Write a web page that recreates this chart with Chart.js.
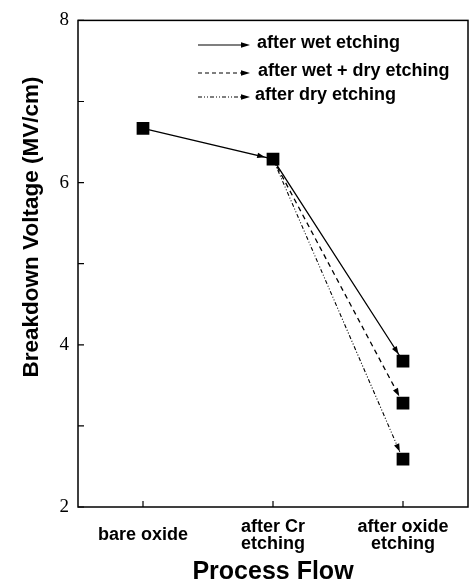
<!DOCTYPE html>
<html>
<head>
<meta charset="utf-8">
<script src="https://cdn.jsdelivr.net/npm/chart.js@4"></script>
<style>
	html, body { margin: 0; padding: 0; background: #fff; }
	#wrap { width: 471px; height: 585px; }
</style>
</head>
<body>
<div id="wrap"><canvas id="chart" width="471" height="585"></canvas></div>
<script>
// process steps (x positions 0, 1, 2)
const steps = [["bare oxide"], ["after Cr", "etching"], ["after oxide", "etching"]];
const yTicks = [2, 3, 4, 5, 6, 7, 8];

// breakdown voltage (MV/cm)
const wetX = [0, 1, 2];
const wetY = [6.67, 6.29, 3.8];
const wetDryX = [1, 2];
const wetDryY = [6.29, 3.28];
const dryX = [1, 2];
const dryY = [6.29, 2.59];

const legendItems = [
	{ text: "after wet etching", dash: [] },
	{ text: "after wet + dry etching", dash: [4, 3] },
	{ text: "after dry etching", dash: [4, 2, 1, 2, 1, 2] },
];

const toPoints = (xs, ys) => xs.map((x, i) => ({ x: x, y: ys[i] }));

function arrowHead(ctx, x1, y1, x2, y2, len, half) {
	const a = Math.atan2(y2 - y1, x2 - x1);
	ctx.beginPath();
	ctx.moveTo(x2, y2);
	ctx.lineTo(x2 - len * Math.cos(a) + half * Math.sin(a), y2 - len * Math.sin(a) - half * Math.cos(a));
	ctx.lineTo(x2 - len * Math.cos(a) - half * Math.sin(a), y2 - len * Math.sin(a) + half * Math.cos(a));
	ctx.closePath();
	ctx.fill();
}

const decor = {
	id: "decor",
	afterDatasetsDraw(chart) {
		const ctx = chart.ctx;
		const area = chart.chartArea;
		const xs = chart.scales.x;
		const ys = chart.scales.y;
		ctx.save();
		ctx.strokeStyle = "#000";
		ctx.fillStyle = "#000";

		// frame
		ctx.lineWidth = 1.5;
		ctx.strokeRect(area.left, area.top, area.right - area.left, area.bottom - area.top);

		// inward ticks
		ctx.lineWidth = 1.2;
		ctx.beginPath();
		for (const v of yTicks) {
			const py = ys.getPixelForValue(v);
			ctx.moveTo(area.left, py);
			ctx.lineTo(area.left + 6, py);
		}
		for (let i = 0; i < steps.length; i++) {
			const px = xs.getPixelForValue(i);
			ctx.moveTo(px, area.bottom);
			ctx.lineTo(px, area.bottom - 6);
		}
		ctx.stroke();

		// arrowheads at the end of each segment
		for (let d = 0; d < 3; d++) {
			const pts = chart.getDatasetMeta(d).data;
			for (let i = 1; i < pts.length; i++) {
				const p0 = pts[i - 1], p1 = pts[i];
				const dx = p1.x - p0.x, dy = p1.y - p0.y;
				const L = Math.hypot(dx, dy);
				const back = 8;
				arrowHead(ctx, p0.x, p0.y, p1.x - dx / L * back, p1.y - dy / L * back, 8, 2.8);
			}
		}

		// legend
		ctx.font = 'bold 18px "Liberation Sans", Arial, sans-serif';
		ctx.textBaseline = "middle";
		const rows = [45, 73, 97];
		const textX = [257, 258, 255];
		legendItems.forEach((item, i) => {
			const y = rows[i];
			ctx.setLineDash(item.dash);
			ctx.lineWidth = 1.2;
			ctx.beginPath();
			ctx.moveTo(198, y);
			ctx.lineTo(242, y);
			ctx.stroke();
			ctx.setLineDash([]);
			arrowHead(ctx, 198, y, 250, y, 9, 2.8);
			ctx.fillText(item.text, textX[i], y - 2);
		});

		// y axis title
		ctx.translate(32, 227);
		ctx.rotate(-Math.PI / 2);
		ctx.textAlign = "center";
		ctx.font = 'bold 22.5px "Liberation Sans", Arial, sans-serif';
		ctx.fillText("Breakdown Voltage (MV/cm)", 0, 0);
		ctx.restore();
	},
};

new Chart(document.getElementById("chart"), {
	type: "scatter",
	data: {
		datasets: [
			{
				label: "after wet etching",
				data: toPoints(wetX, wetY),
				showLine: true,
				borderColor: "#000",
				borderWidth: 1.3,
				pointRadius: 0,
			},
			{
				label: "after wet + dry etching",
				data: toPoints(wetDryX, wetDryY),
				showLine: true,
				borderColor: "#000",
				borderWidth: 1.3,
				borderDash: [5, 4],
				pointRadius: 0,
			},
			{
				label: "after dry etching",
				data: toPoints(dryX, dryY),
				showLine: true,
				borderColor: "#000",
				borderWidth: 1.1,
				borderDash: [4, 2, 1, 2, 1, 2],
				pointRadius: 0,
			},
			{
				label: "measured",
				data: toPoints(wetX, wetY).concat(toPoints(wetDryX.slice(1), wetDryY.slice(1)), toPoints(dryX.slice(1), dryY.slice(1))),
				pointStyle: "rect",
				pointRadius: 9,
				backgroundColor: "#000",
				borderColor: "#000",
				borderWidth: 0,
			},
		],
	},
	options: {
		responsive: false,
		animation: false,
		layout: { autoPadding: false, padding: { top: 19, right: 3, left: 0, bottom: 0 } },
		plugins: { legend: { display: false }, tooltip: { enabled: false } },
		scales: {
			x: {
				type: "linear",
				min: -0.5,
				max: 2.5,
				afterFit: (scale) => { scale.height = 78; },
				afterBuildTicks: (scale) => { scale.ticks = steps.map((s, i) => ({ value: i })); },
				grid: { display: false, drawTicks: false },
				border: { display: false },
				ticks: {
					padding: 11,
					color: "#000",
					// single-line labels get a double line height so they sit between the two lines of the others
					font: (c) => ({
						family: '"Liberation Sans", Arial, sans-serif',
						size: 18,
						weight: "bold",
						lineHeight: steps[c.index] && steps[c.index].length === 1 ? 1.9 : 0.95,
					}),
					callback: (v) => steps[v],
				},
				title: {
					display: true,
					text: "Process Flow",
					color: "#000",
					font: { family: '"Liberation Sans", Arial, sans-serif', size: 25, weight: "bold" },
					padding: { top: 0, bottom: -2 },
				},
			},
			y: {
				min: 2,
				max: 8,
				afterFit: (scale) => { scale.width = 78; },
				afterBuildTicks: (scale) => { scale.ticks = yTicks.map((v) => ({ value: v })); },
				grid: { display: false, drawTicks: false },
				border: { display: false },
				ticks: {
					padding: 9,
					color: "#000",
					font: { family: '"Liberation Serif", "Times New Roman", serif', size: 19 },
					callback: (v) => (v % 2 === 0 ? String(v) : ""),
				},
			},
		},
	},
	plugins: [decor],
});
</script>
</body>
</html>
